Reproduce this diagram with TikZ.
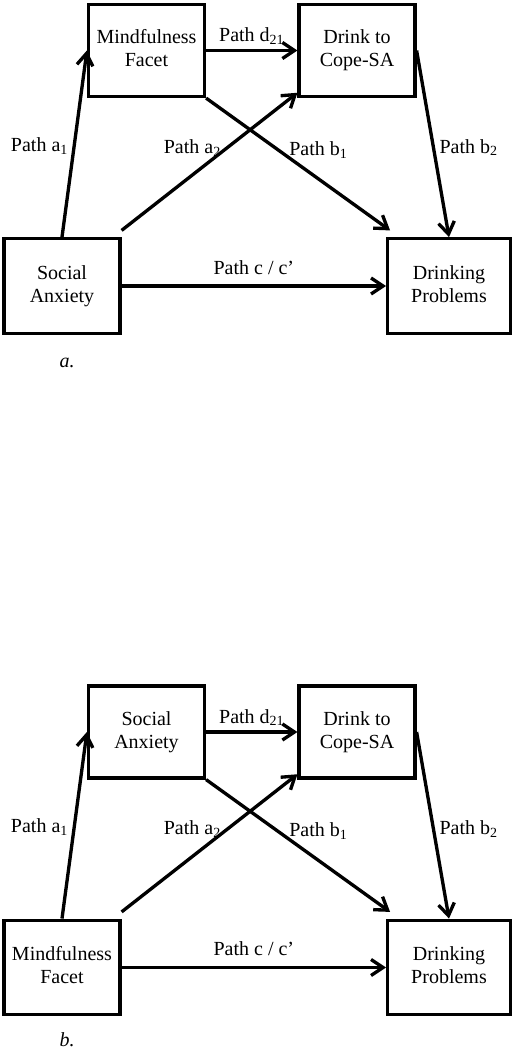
\documentclass[tikz,border=0pt]{standalone}
\usepackage{fontspec}
\setmainfont{Liberation Serif}
\usetikzlibrary{arrows.meta}
\newcommand{\boxlines}[3]{\raisebox{#1}{\begin{tabular}{@{}c@{}}#2\\#3\end{tabular}}}
\tikzset{
	x=0.75pt, y=-0.75pt, % one unit is one pixel, y runs down the page
	every node/.style={font=\fontsize{15}{17.5}\selectfont},
	box/.style={draw, line width=2.4pt, minimum width=87pt, minimum height=69pt, inner sep=0pt}, % the variable boxes
	low/.style={minimum height=71pt}, % bottom row boxes are a little taller
	link/.style={line width=2.5pt, -{Straight Barb[length=9pt,width=12pt]}}, % the paths
}
\begin{document}
\begin{tikzpicture}
	\useasboundingbox (0,0) rectangle (516,1050);
	% panel a
	\begin{scope}
		\node[box] (mfa) at (146.5,50.5) {\boxlines{1.5pt}{Mindfulness}{Facet}};
		\node[box] (dca) at (357,50.5) {\boxlines{1.5pt}{Drink to}{Cope-SA}};
		\node[box,low] (saa) at (62,286) {\boxlines{8.5pt}{Social}{Anxiety}};
		\node[box,low,minimum width=92pt] (dpa) at (449,286) {\boxlines{8.5pt}{Drinking}{Problems}};
		\node (capa) at (67,363) {\textit{a.}};
		
		\draw[link] (saa.north) -- node[pos=0.49,left]{Path a\textsubscript{1}} (mfa.west);
		\draw[link] (mfa.east) -- node[above]{Path d\textsubscript{21}} (dca.west);
		\draw[link] ([yshift=5pt]saa.north east) -- node[pos=0.6,left]{Path a\textsubscript{2}} ([yshift=4pt]dca.south west);
		\draw[link] (mfa.south east) -- node[pos=0.39,right=4pt]{Path b\textsubscript{1}} ([shift={(3pt,5pt)}]dpa.north west);
		\draw[link] (dca.east) -- node[pos=0.52,right]{Path b\textsubscript{2}} (dpa.north);
		\draw[link] (saa.east) -- node[above=4pt]{Path c / c’} (dpa.west);
	\end{scope}
	% panel b
	\begin{scope}[shift={(0,681.5)}]
		\node[box] (sab) at (146.5,50.5) {\boxlines{1.5pt}{Social}{Anxiety}};
		\node[box] (dcb) at (357,50.5) {\boxlines{1.5pt}{Drink to}{Cope-SA}};
		\node[box,low] (mfb) at (62,286) {\boxlines{8.5pt}{Mindfulness}{Facet}};
		\node[box,low,minimum width=92pt] (dpb) at (449,286) {\boxlines{8.5pt}{Drinking}{Problems}};
		\node (capb) at (67,358) {\textit{b.}};
		
		\draw[link] (mfb.north) -- node[pos=0.49,left]{Path a\textsubscript{1}} (sab.west);
		\draw[link] (sab.east) -- node[above]{Path d\textsubscript{21}} (dcb.west);
		\draw[link] ([yshift=5pt]mfb.north east) -- node[pos=0.6,left]{Path a\textsubscript{2}} ([yshift=4pt]dcb.south west);
		\draw[link] (sab.south east) -- node[pos=0.39,right=4pt]{Path b\textsubscript{1}} ([shift={(3pt,5pt)}]dpb.north west);
		\draw[link] (dcb.east) -- node[pos=0.52,right]{Path b\textsubscript{2}} (dpb.north);
		\draw[link] (mfb.east) -- node[above=4pt]{Path c / c’} (dpb.west);
	\end{scope}
\end{tikzpicture}
\end{document}
